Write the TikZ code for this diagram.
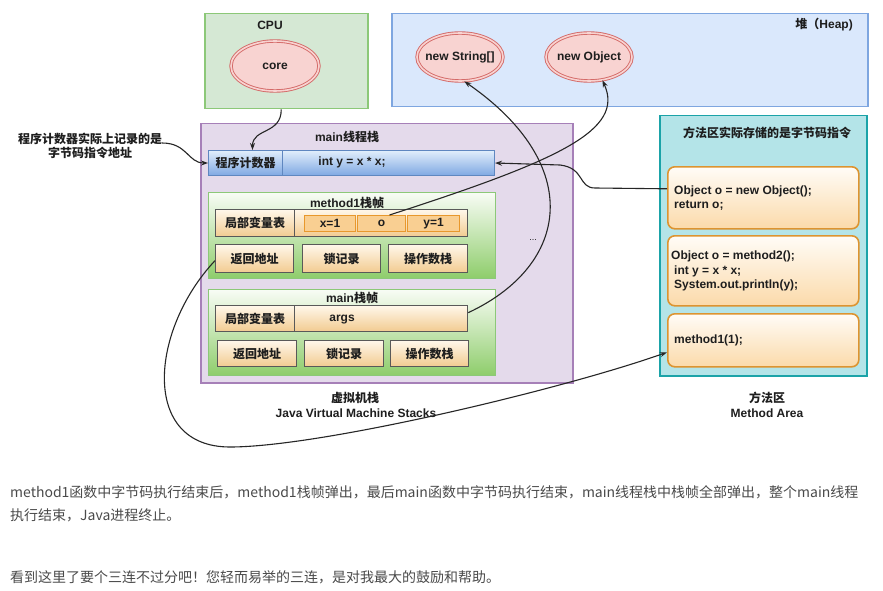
\documentclass[tikz,border=0pt]{standalone}
\usepackage{fontspec}
\setmainfont{Liberation Sans}
\newfontfamily\cjk{Noto Sans CJK SC}
\newfontfamily\cjkp{Noto Sans CJK SC}
\newcommand\zh[1]{{\cjk #1}}
\usetikzlibrary{shapes.geometric,arrows.meta}
\definecolor{cpuF}{HTML}{D5E8D4}
\definecolor{cpuD}{HTML}{8CC878}
\definecolor{heapF}{HTML}{DAE8FC}
\definecolor{heapD}{HTML}{7EA6E0}
\definecolor{stackF}{HTML}{E4DAEB}
\definecolor{stackD}{HTML}{A680B8}
\definecolor{maF}{HTML}{B4E4E8}
\definecolor{maD}{HTML}{1BA3A8}
\definecolor{ellF}{HTML}{F8D3D1}
\definecolor{ellD}{HTML}{D46A68}
\definecolor{txt}{HTML}{1E1E1E}
\definecolor{para}{HTML}{4A4A4A}
\definecolor{pcTop}{HTML}{E1EEFC}
\definecolor{pcBot}{HTML}{7FA8E2}
\definecolor{pcD}{HTML}{5F87C0}
\definecolor{frTop}{HTML}{F8FCF5}
\definecolor{frBot}{HTML}{8ECD6B}
\definecolor{clTop}{HTML}{FFF7EA}
\definecolor{clBot}{HTML}{F2CB90}
\definecolor{ocD}{HTML}{E8982C}
\definecolor{ocF}{HTML}{F9CF92}
\definecolor{mbD}{HTML}{DD9430}
\definecolor{mbTop}{HTML}{FFFCF7}
\definecolor{mbBot}{HTML}{FBDAAA}
\begin{document}
\begin{tikzpicture}[x=1pt,y=-1pt,
  every node/.style={font=\bfseries\fontsize{12}{14.5}\selectfont, text=txt, inner sep=0pt},
  area/.style={draw, line width=1.5pt, anchor=north west, inner sep=0pt},
  cpubox/.style={area, draw=cpuD, fill=cpuF},
  heapbox/.style={area, draw=heapD, fill=heapF},
  stackbox/.style={area, draw=stackD, fill=stackF},
  mabox/.style={area, draw=maD, fill=maF},
  ell/.style={ellipse, draw=ellD, double=ellF, double distance=1.6pt, line width=0.9pt, fill=ellF, minimum width=86pt, minimum height=48pt},
  pcbar/.style={draw=pcD, line width=1pt, anchor=north west, top color=pcTop, bottom color=pcBot},
  frame/.style={draw=cpuD, line width=1pt, anchor=north west, top color=frTop, bottom color=frBot},
  cell/.style={draw=black!65, line width=1.3pt, anchor=north west, top color=clTop, bottom color=clBot},
  ocell/.style={draw=ocD, line width=1pt, anchor=north west, fill=ocF, minimum height=16pt},
  mbox/.style={draw=mbD, line width=1.6pt, rounded corners=7pt, anchor=north west, top color=mbTop, bottom color=mbBot},
  conn/.style={line width=1.1pt, draw=black!85, -{Stealth[length=7pt,width=5pt]}},
  captext/.style={font=\bfseries\fontsize{12}{13}\selectfont},
  paratext/.style={anchor=west, font=\cjkp\mdseries\fontsize{14}{17}\selectfont, text=para}
]
\useasboundingbox[fill=white] (0,0) rectangle (883,591);

% CPU
\node[cpubox, minimum width=163pt, minimum height=95pt] (cpu) at (204,13) {};
\node (cpulbl) at (270,25) {CPU};
\node[ell, minimum width=88pt, minimum height=50pt, label={center:core}] (core) at (275,66) {};

% Heap
\node[heapbox, minimum width=476pt, minimum height=93pt] (heap) at (391,13) {};
\node[anchor=east] (heaplbl) at (853,25) {\zh{堆（}Heap)};
\node[ell, label={center:new String[]}] (newString) at (460,57) {};
\node[ell, label={center:new Object}] (newObject) at (589,57) {};

% JVM stack
\node[stackbox, minimum width=372pt, minimum height=259pt] (stack) at (200,123) {};
\node (stacklbl) at (347,137) {main\zh{线程栈}};
\node[pcbar, minimum width=74pt, minimum height=25pt] (pcL) at (208,150) {\zh{程序计数器}};
\node[pcbar, minimum width=212pt, minimum height=25pt] (pcR) at (282,150) {};
\node (pctxt) at (352,162) {int y = x * x;};

% method1 frame
\node[frame, minimum width=287pt, minimum height=86pt] (f1) at (208,192) {};
\node (f1lbl) at (347,203) {method1\zh{栈帧}};
\node[cell, minimum width=79pt, minimum height=27pt] (lvt1) at (215,209) {\zh{局部变量表}};
\node[cell, minimum width=173pt, minimum height=27pt] (lvt1r) at (294,209) {};
\node[ocell, minimum width=51pt] (cx) at (304,215) {x=1};
\node[ocell, minimum width=48pt] (co) at (357,215) {o};
\node[ocell, minimum width=52pt] (cy) at (407,215) {y=1};
\node[cell, minimum width=78pt, minimum height=28pt] (ret1) at (215,244) {\zh{返回地址}};
\node[cell, minimum width=78pt, minimum height=28pt] (lock1) at (302,244) {\zh{锁记录}};
\node[cell, minimum width=79pt, minimum height=28pt] (ops1) at (388,244) {\zh{操作数栈}};

% main frame
\node[frame, minimum width=287pt, minimum height=86pt] (f2) at (208,289) {};
\node (f2lbl) at (352,298) {main\zh{栈帧}};
\node[cell, minimum width=79pt, minimum height=26pt] (lvt2) at (215,305) {\zh{局部变量表}};
\node[cell, minimum width=173pt, minimum height=26pt] (lvt2r) at (294,305) {};
\node (args) at (342,320) {args};
\node[cell, minimum width=79pt, minimum height=26pt] (ret2) at (217,340) {\zh{返回地址}};
\node[cell, minimum width=79pt, minimum height=26pt] (lock2) at (304,340) {\zh{锁记录}};
\node[cell, minimum width=78pt, minimum height=26pt] (ops2) at (390,340) {\zh{操作数栈}};

\node[font=\mdseries\fontsize{9}{10}\selectfont] (dots) at (533,240) {...};
\node[captext] (stackcap1) at (355,398) {\zh{虚拟机栈}};
\node[captext] (stackcap2) at (356,413) {Java Virtual Machine Stacks};

% Method area
\node[mabox, minimum width=207pt, minimum height=260pt] (ma) at (659,115) {};
\node (malbl) at (767,133) {\zh{方法区实际存储的是字节码指令}};
\node[mbox, minimum width=191pt, minimum height=62pt] (mbox1) at (667,166) {};
\node[mbox, minimum width=191pt, minimum height=70pt] (mbox2) at (667,235) {};
\node[mbox, minimum width=191pt, minimum height=53pt] (mbox3) at (667,313) {};
\node[anchor=west, align=left] (t1) at (674,198) {Object o = new Object();\\return o;};
\node[anchor=west, align=left] (t2) at (671,271) {Object o = method2();\\\hspace{3pt}int y = x * x;\\\hspace{3pt}System.out.println(y);};
\node[anchor=west] (t3) at (674,340) {method1(1);};
\node[captext] (macap1) at (767,398) {\zh{方法区}};
\node[captext] (macap2) at (767,413) {Method Area};

% note
\node[align=center] (note) at (90,146) {\zh{程序计数器实际上记录的是}\\\zh{字节码指令地址}};

% connectors
\draw[conn] ([xshift=-5pt]cpu.south) .. controls +(0,25) and +(0,-22) .. ([xshift=7pt]pcL.north);
\draw[conn] ([yshift=3pt]note.east) .. controls +(25,0) and +(-20,0) .. (pcL.west);
\draw[conn] ([yshift=9pt]mbox1.west) -- (595,188) .. controls (578,188) and (585,168) .. (560,165) -- (pcR.east);
\draw[conn] ([xshift=8pt]co.north) .. controls (560,160) and (625,130) .. (newObject.-60);
\draw[conn] ([yshift=6pt]lvt2r.east) .. controls (570,265) and (585,165) .. (newString.-80);
\draw[conn] ([yshift=-2pt]ret1.west) .. controls (150,330) and (140,447) .. (230,447) .. controls (320,447) and (560,390) .. ([yshift=-12pt]mbox3.west);

% paragraphs
\node[paratext] (p1) at (10,492) {method1函数中字节码执行结束后，method1栈帧弹出，最后main函数中字节码执行结束，main线程栈中栈帧全部弹出，整个main线程};
\node[paratext] (p2) at (10,515) {执行结束，Java进程终止。};
\node[paratext] (p3) at (10,577) {看到这里了要个三连不过分吧！您轻而易举的三连，是对我最大的鼓励和帮助。};
\end{tikzpicture}
\end{document}
